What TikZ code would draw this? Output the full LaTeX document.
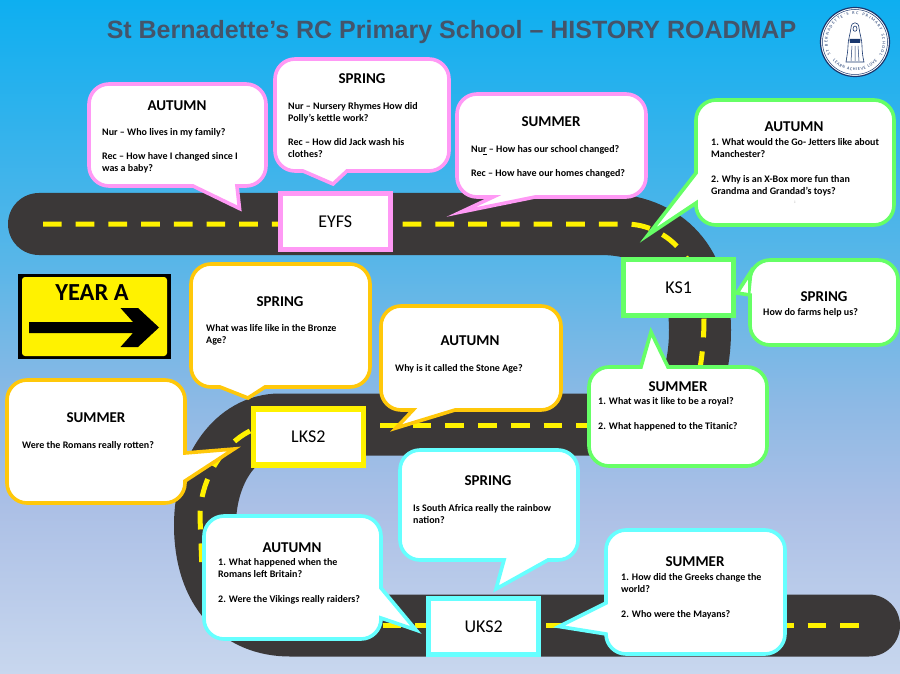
\documentclass[tikz,border=0pt]{standalone}
\usepackage{fontspec}
\setmainfont{Carlito}
\newfontfamily\titlefont{Liberation Sans}
\usetikzlibrary{decorations.text}
\definecolor{roadc}{RGB}{59,56,56}
\definecolor{dashc}{RGB}{255,242,0}
\definecolor{pinkc}{RGB}{255,153,245}
\definecolor{greenc}{RGB}{102,255,102}
\definecolor{goldc}{RGB}{255,200,10}
\definecolor{cyanc}{RGB}{102,255,255}
\definecolor{titlec}{RGB}{68,84,106}
\definecolor{navyc}{RGB}{25,55,110}
\definecolor{skya}{RGB}{14,175,240}
\definecolor{skyb}{RGB}{88,182,232}
\definecolor{skyc}{RGB}{140,185,229}
\definecolor{skyd}{RGB}{172,192,230}
\definecolor{skye}{RGB}{200,215,238}
\tikzset{
  bubble/.style={draw=#1,fill=white,line width=3.6pt,miter limit=25},
  stagebox/.style={draw=#1,fill=white,line width=5.5pt,minimum width=110pt,minimum height=56pt,inner sep=0pt,font=\fontsize{18}{20}\selectfont},
  road/.style={draw=roadc,line width=62pt,line cap=round},
  lanemark/.style={draw=dashc,line width=5pt,dash pattern=on 18.7pt off 14pt},
  heading/.style={font=\bfseries\fontsize{15}{17}\selectfont,inner sep=0pt},
  body/.style={font=\bfseries\fontsize{10}{12}\selectfont,align=left,anchor=north west,inner sep=0pt,text=black}
}
\newcommand{\RR}{20}
% style, x0,y0,x1,y1, top, right, bottom, left
\newcommand{\bub}[9]{%
  \draw[bubble=#1] ({#2+\RR},#3) #6 -- ({#4-\RR},#3)
   .. controls ({#4-.45*\RR},#3) and (#4,{#3+.45*\RR}) .. (#4,{#3+\RR})
   #7 -- (#4,{#5-\RR})
   .. controls (#4,{#5-.45*\RR}) and ({#4-.45*\RR},#5) .. ({#4-\RR},#5)
   #8 -- ({#2+\RR},#5)
   .. controls ({#2+.45*\RR},#5) and (#2,{#5-.45*\RR}) .. (#2,{#5-\RR})
   #9 -- (#2,{#3+\RR})
   .. controls (#2,{#3+.45*\RR}) and ({#2+.45*\RR},#3) .. ({#2+\RR},#3) -- cycle;}
\newcommand{\strt}{\rule{0pt}{9.4pt}}
\begin{document}
\begin{tikzpicture}[x=1pt,y=-1pt]
\useasboundingbox (0,0) rectangle (900,674);
% sky
\shade[top color=skya,bottom color=skyb,draw=none] (0,0) rectangle (900,261);
\shade[top color=skyb,bottom color=skyc,draw=none] (0,260) rectangle (900,401);
\shade[top color=skyc,bottom color=skyd,draw=none] (0,400) rectangle (900,511);
\shade[top color=skyd,bottom color=skye,draw=none] (0,510) rectangle (900,674);
% road
\draw[road] (39,224) -- (600,224) .. controls (668,224) and (700,266) .. (700,330)
  .. controls (700,385) and (680,424.5) .. (630,424.5) -- (280,424.5)
  .. controls (236,424.5) and (205,470) .. (205,525)
  .. controls (205,590) and (240,625.5) .. (290,625.5) -- (869,625.5);
% lane markings
\draw[lanemark] (43,224) -- (625,224) .. controls (670,224) and (704,265) .. (704,318)
  .. controls (704,340) and (702,360) .. (698,378);
\draw[lanemark] (380,425) -- (640,425);
\draw[lanemark] (250,431) .. controls (222,445) and (200,480) .. (200,517) -- (202,570);
\draw[lanemark] (382.6,625.5) -- (859,625.5);
% title
\node[font=\titlefont\bfseries\fontsize{25}{28}\selectfont,text=titlec,inner sep=0pt] (title) at (451.5,32) {St Bernadette’s RC Primary School – HISTORY ROADMAP};
% logo
\node[circle,draw=navyc,fill=white,line width=1.2pt,minimum size=69pt,inner sep=0pt] (logo) at (855,42) {};
\draw[navyc,line width=.5pt] (855,42) circle[radius=32.5];
\path[decorate,decoration={text along path,text align=fit to path,text={|\fontsize{4.3}{6}\selectfont\color{navyc}|ST BERNADETTE'S RC PRIMARY SCHOOL}}]
  (855,42) ++(152:27.5) arc[start angle=152,end angle=388,radius=27.5];
\path[decorate,decoration={text along path,text align=fit to path,text={|\fontsize{4.3}{6}\selectfont\color{navyc}|LEARN ACHIEVE LOVE}}]
  (855,42) ++(140:29) arc[start angle=140,end angle=40,radius=29];
\draw[navyc,fill=white,line width=.6pt] (851,28) .. controls (851,21) and (859,21) .. (859,28)
  .. controls (860,35) and (862,40) .. (862,46) .. controls (862,52) and (863,58) .. (864,62)
  -- (846,62) .. controls (847,56) and (848,50) .. (848,46) .. controls (848,40) and (850,35) .. (851,28) -- cycle;
\draw[navyc,fill=white,line width=.6pt] (853,29) .. controls (853,25) and (857,25) .. (857,29) .. controls (857,32) and (853,32) .. (853,29) -- cycle;
\fill[navyc] (849.5,39) -- (860.5,39) -- (860,43) -- (850,43) -- cycle;
\draw[navyc,line width=.5pt] (852,46) -- (851,61) (855,46) -- (855,61) (858,46) -- (859,61);
% sign
\fill[black] (18,274) rectangle (171,359);
\fill[dashc,rounded corners=3pt] (22,277) rectangle (167,356);
\node[font=\bfseries\fontsize{24.5}{26}\selectfont,inner sep=0pt] (yeara) at (92,293) {YEAR A};
\fill[black] (29,322) -- (133,322) -- (120.5,308) -- (138,308) -- (159,327.5) -- (138,347) -- (120.5,347) -- (133,333) -- (29,333) -- cycle;
% stage boxes
\node[stagebox=pinkc] (eyfs) at (335.3,221.5) {EYFS};
\node[stagebox=greenc] (ks1) at (678.7,287.5) {KS1};
\node[stagebox=dashc] (lks2) at (308.3,436.8) {LKS2};
\node[stagebox=cyanc] (uks2) at (483.7,626.3) {UKS2};
% bubbles
\bub{pinkc}{89}{84}{266}{186}{}{}{-- (237,186) -- (239.5,208.5) -- (193,186)}{}
\bub{pinkc}{275}{59}{449}{171}{}{}{-- (347,171) -- (333,184) -- (303,171)}{}
\bub{pinkc}{457}{94}{646}{197}{}{}{-- (535,197) -- (461,212) -- (493,197)}{}
\bub{greenc}{696}{100}{894}{225}{}{}{}{-- (696,203) -- (648,235) -- (696,173)}
\bub{greenc}{750}{260}{898}{345}{}{}{}{-- (750,295) -- (737,293) -- (750,273)}
\bub{greenc}{589}{367}{767}{466}{-- (641,367) -- (651,332) -- (668,367)}{}{}{}
\bub{goldc}{191}{264}{370}{387}{}{}{-- (265,387) -- (248,398) -- (220,387)}{}
\bub{goldc}{381}{306}{561}{410}{}{}{-- (455,410) -- (396,428) -- (413,410)}{}
\bub{goldc}{7}{380}{185}{503}{}{-- (185,453) -- (234,449) -- (185,481)}{}{}
\bub{cyanc}{400}{450}{578}{560}{}{}{-- (548,560) -- (496,589) -- (504,560)}{}
\bub{cyanc}{204}{516}{381}{639}{}{-- (381,588) -- (416,630) -- (381,618)}{}{}
\bub{cyanc}{606}{530}{785}{654}{}{}{}{-- (606,634) -- (559,626.5) -- (606,603)}
% EYFS text
\node[heading] (h1) at (177,106) {AUTUMN};
\node[body] (b1) at (102,126) {\strt Nur – Who lives in my family?\\[12pt]Rec – How have I changed since I\\was a baby?};
\node[heading] (h2) at (362,79) {SPRING};
\node[body] (b2) at (288,100) {\strt Nur – Nursery Rhymes How did\\Polly’s kettle work?\\[12pt]Rec – How did Jack wash his\\clothes?};
\node[heading] (h3) at (551,122) {SUMMER};
\node[body] (b3) at (471,143) {\strt Nu\underline{r} – How has our school changed?\\[12pt]Rec – How have our homes changed?};
% KS1 text
\node[heading] (h4) at (794,127) {AUTUMN};
\node[body] (b4) at (711,136) {\strt 1. What would the Go- Jetters like about\\Manchester?\\[12.5pt]2. Why is an X-Box more fun than\\Grandma and Grandad’s toys?};
\node[font=\fontsize{5}{6}\selectfont,text=black!60,inner sep=0pt] (b4a) at (795,202) {:};
\node[heading] (h5) at (824,297) {SPRING};
\node[body] (b5) at (763,306) {\strt How do farms help us?};
\node[heading] (h6) at (678,387) {SUMMER};
\node[body] (b6) at (598,395) {\strt 1. What was it like to be a royal?\\[13pt]2. What happened to the Titanic?};
% LKS2 text
\node[heading] (h7) at (280,302) {SPRING};
\node[body] (b7) at (206,322) {\strt What was life like in the Bronze\\Age?};
\node[heading] (h8) at (470,341) {AUTUMN};
\node[body] (b8) at (395,362) {\strt Why is it called the Stone Age?};
\node[heading] (h9) at (96,418) {SUMMER};
\node[body] (b9) at (22,439) {\strt Were the Romans really rotten?};
% UKS2 text
\node[heading] (h10) at (488,481) {SPRING};
\node[body] (b10) at (413,502) {\strt Is South Africa really the rainbow\\nation?};
\node[heading] (h11) at (292,548) {AUTUMN};
\node[body] (b11) at (218,556) {\strt 1. What happened when the\\Romans left Britain?\\[13pt]2. Were the Vikings really raiders?};
\node[heading] (h12) at (695,562) {SUMMER};
\node[body] (b12) at (621,571) {\strt 1. How did the Greeks change the\\world?\\[13pt]2. Who were the Mayans?};
\end{tikzpicture}
\end{document}
